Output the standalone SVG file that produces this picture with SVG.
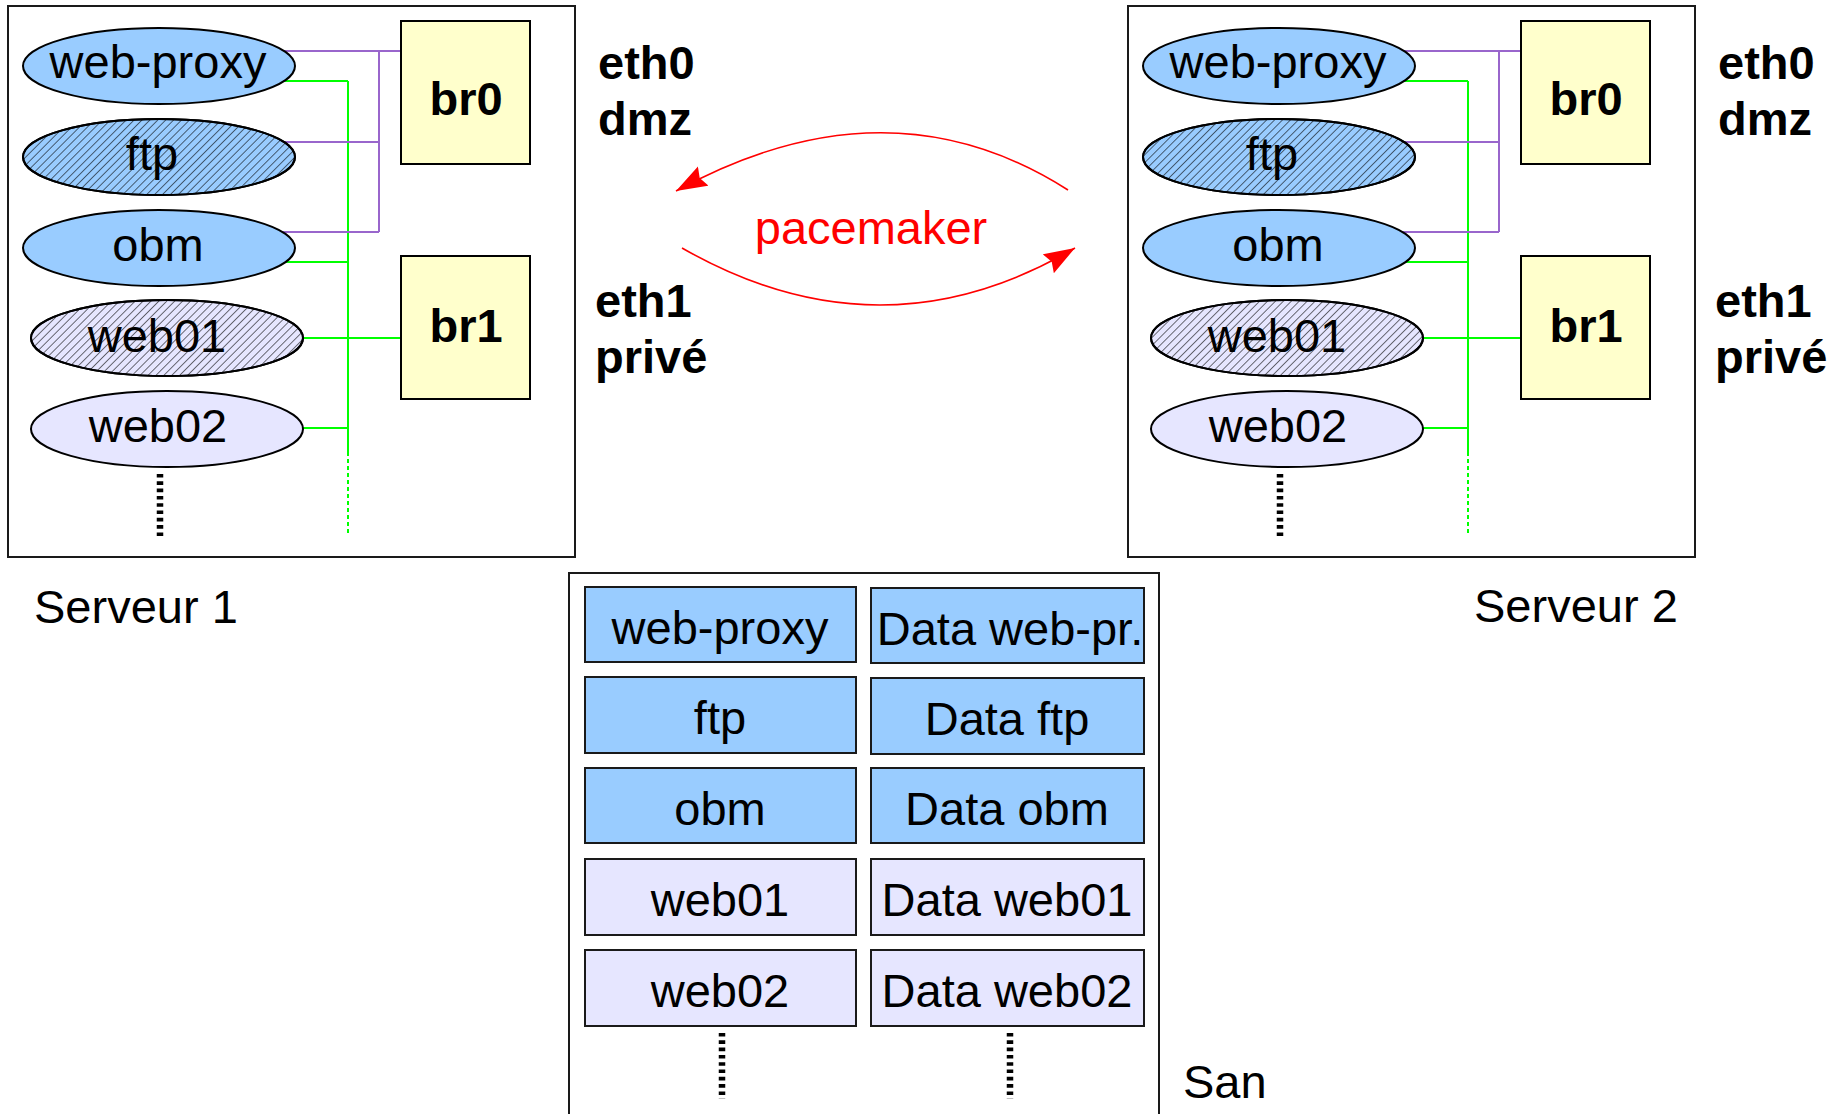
<svg xmlns="http://www.w3.org/2000/svg" width="1841" height="1114" viewBox="0 0 1841 1114">
  <style>
    .frame { fill: #ffffff; stroke: #1a1a1a; stroke-width: 2; }
    .vm-blue { fill: #99ccff; stroke: #000000; stroke-width: 2; }
    .vm-lav { fill: #e6e6ff; stroke: #000000; stroke-width: 2; }
    .hatch { fill: url(#hatch); stroke: #000000; stroke-width: 2; }
    .bridge { fill: #ffffcc; stroke: #000000; stroke-width: 2; }
    .disk-blue { fill: #99ccff; stroke: #1a1a1a; stroke-width: 2; }
    .disk-lav { fill: #e6e6ff; stroke: #1a1a1a; stroke-width: 2; }
    .t { font-family: "Liberation Sans", Arial, sans-serif; font-size: 47px; fill: #000000; }
    .c { text-anchor: middle; }
    .b { font-weight: bold; }
    .red { fill: #ff0000; }
    .dmz { fill: none; stroke: #9966cc; stroke-width: 2; }
    .lan { fill: none; stroke: #00ff00; stroke-width: 2; }
    .lan-more { fill: none; stroke: #00ff00; stroke-width: 2; stroke-dasharray: 4 3; }
    .more { fill: none; stroke: #000000; stroke-width: 6.5; stroke-dasharray: 3.6 3.7; }
    .ha { fill: none; stroke: #ff0000; stroke-width: 1.6; }
  </style>
  <defs>
    <pattern id="hatch" width="5.6" height="5.6" patternUnits="userSpaceOnUse" patternTransform="rotate(45)">
      <line x1="0" y1="0" x2="0" y2="5.6" stroke="#000000" stroke-width="1.1"/>
    </pattern>
    <marker id="arrow" markerUnits="userSpaceOnUse" markerWidth="34" markerHeight="26" refX="31" refY="11" orient="auto">
      <path d="M31,11 L0,0 L4,11 L0,22 Z" fill="#ff0000"/>
    </marker>
  </defs>

  <!-- server frames -->
  <rect id="serveur1" class="frame" x="8" y="6" width="567" height="551"/>
  <rect id="serveur2" class="frame" x="1128" y="6" width="567" height="551"/>
  <rect id="san" class="frame" x="569" y="573" width="590" height="560"/>

  <!-- connectors: dmz (br0) in purple, private (br1) in green -->
  <g id="connectors">
    <g id="links-serveur1">
      <path class="lan" d="M250,81 H348 M250,262 H348 M260,338 H401 M260,428 H348 M348,81 V452"/>
      <path class="lan-more" d="M348,452 V535"/>
      <path class="dmz" d="M250,51 H401 M250,142 H379 M250,232 H379 M379,51 V232"/>
    </g>
    <g id="links-serveur2">
      <path class="lan" d="M1370,81 H1468 M1370,262 H1468 M1380,338 H1521 M1380,428 H1468 M1468,81 V452"/>
      <path class="lan-more" d="M1468,452 V535"/>
      <path class="dmz" d="M1370,51 H1521 M1370,142 H1499 M1370,232 H1499 M1499,51 V232"/>
    </g>
    <g id="pacemaker-links">
      <path class="ha" d="M1068,190 Q888,75 676,191" marker-end="url(#arrow)"/>
      <path class="ha" d="M682,248 Q881,362 1075,248" marker-end="url(#arrow)"/>
    </g>
  </g>

  <!-- Serveur 1 -->
  <g id="s1-web-proxy">
    <ellipse class="vm-blue" cx="159" cy="66" rx="136" ry="38"/>
    <text class="t c" x="158" y="78">web-proxy</text>
  </g>
  <g id="s1-ftp">
    <ellipse class="vm-blue" cx="159" cy="157" rx="136" ry="38"/>
    <ellipse class="hatch" cx="159" cy="157" rx="136" ry="38"/>
    <text class="t c" x="152" y="170">ftp</text>
  </g>
  <g id="s1-obm">
    <ellipse class="vm-blue" cx="159" cy="248" rx="136" ry="38"/>
    <text class="t c" x="158" y="261">obm</text>
  </g>
  <g id="s1-web01">
    <ellipse class="vm-lav" cx="167" cy="338" rx="136" ry="38"/>
    <ellipse class="hatch" cx="167" cy="338" rx="136" ry="38"/>
    <text class="t c" x="157" y="352">web01</text>
  </g>
  <g id="s1-web02">
    <ellipse class="vm-lav" cx="167" cy="429" rx="136" ry="38"/>
    <text class="t c" x="158" y="442">web02</text>
  </g>
  <path id="s1-more" class="more" d="M160,474 V539"/>
  <g id="s1-br0">
    <rect class="bridge" x="401" y="21" width="129" height="143"/>
    <text class="t c b" x="466" y="115">br0</text>
  </g>
  <g id="s1-br1">
    <rect class="bridge" x="401" y="256" width="129" height="143"/>
    <text class="t c b" x="466" y="342">br1</text>
  </g>

  <!-- Serveur 2 -->
  <g id="s2-web-proxy">
    <ellipse class="vm-blue" cx="1279" cy="66" rx="136" ry="38"/>
    <text class="t c" x="1278" y="78">web-proxy</text>
  </g>
  <g id="s2-ftp">
    <ellipse class="vm-blue" cx="1279" cy="157" rx="136" ry="38"/>
    <ellipse class="hatch" cx="1279" cy="157" rx="136" ry="38"/>
    <text class="t c" x="1272" y="170">ftp</text>
  </g>
  <g id="s2-obm">
    <ellipse class="vm-blue" cx="1279" cy="248" rx="136" ry="38"/>
    <text class="t c" x="1278" y="261">obm</text>
  </g>
  <g id="s2-web01">
    <ellipse class="vm-lav" cx="1287" cy="338" rx="136" ry="38"/>
    <ellipse class="hatch" cx="1287" cy="338" rx="136" ry="38"/>
    <text class="t c" x="1277" y="352">web01</text>
  </g>
  <g id="s2-web02">
    <ellipse class="vm-lav" cx="1287" cy="429" rx="136" ry="38"/>
    <text class="t c" x="1278" y="442">web02</text>
  </g>
  <path id="s2-more" class="more" d="M1280,474 V539"/>
  <g id="s2-br0">
    <rect class="bridge" x="1521" y="21" width="129" height="143"/>
    <text class="t c b" x="1586" y="115">br0</text>
  </g>
  <g id="s2-br1">
    <rect class="bridge" x="1521" y="256" width="129" height="143"/>
    <text class="t c b" x="1586" y="342">br1</text>
  </g>

  <!-- interface labels -->
  <g id="labels">
    <text class="t b" x="598" y="79">eth0</text>
    <text class="t b" x="598" y="135">dmz</text>
    <text class="t b" x="595" y="317">eth1</text>
    <text class="t b" x="595" y="373">privé</text>
    <text class="t b" x="1718" y="79">eth0</text>
    <text class="t b" x="1718" y="135">dmz</text>
    <text class="t b" x="1715" y="317">eth1</text>
    <text class="t b" x="1715" y="373">privé</text>
    <text class="t" x="34" y="623">Serveur 1</text>
    <text class="t" x="1474" y="622">Serveur 2</text>
    <text class="t" x="1183" y="1098">San</text>
    <text class="t c red" x="871" y="244">pacemaker</text>
  </g>

  <!-- shared storage volumes -->
  <g id="san-web-proxy"><rect class="disk-blue" x="585" y="587" width="271" height="75"/><text class="t c" x="720" y="644">web-proxy</text></g>
  <g id="san-data-web-proxy"><rect class="disk-blue" x="871" y="588" width="273" height="75"/><text class="t c" x="1010" y="645">Data web-pr.</text></g>
  <g id="san-ftp"><rect class="disk-blue" x="585" y="677" width="271" height="76"/><text class="t c" x="720" y="734">ftp</text></g>
  <g id="san-data-ftp"><rect class="disk-blue" x="871" y="678" width="273" height="76"/><text class="t c" x="1007" y="735">Data ftp</text></g>
  <g id="san-obm"><rect class="disk-blue" x="585" y="768" width="271" height="75"/><text class="t c" x="720" y="825">obm</text></g>
  <g id="san-data-obm"><rect class="disk-blue" x="871" y="768" width="273" height="75"/><text class="t c" x="1007" y="825">Data obm</text></g>
  <g id="san-web01"><rect class="disk-lav" x="585" y="859" width="271" height="76"/><text class="t c" x="720" y="916">web01</text></g>
  <g id="san-data-web01"><rect class="disk-lav" x="871" y="859" width="273" height="76"/><text class="t c" x="1007" y="916">Data web01</text></g>
  <g id="san-web02"><rect class="disk-lav" x="585" y="950" width="271" height="76"/><text class="t c" x="720" y="1007">web02</text></g>
  <g id="san-data-web02"><rect class="disk-lav" x="871" y="950" width="273" height="76"/><text class="t c" x="1007" y="1007">Data web02</text></g>
  <path id="san-more" class="more" d="M722,1033 V1099 M1010,1033 V1099"/>
</svg>
